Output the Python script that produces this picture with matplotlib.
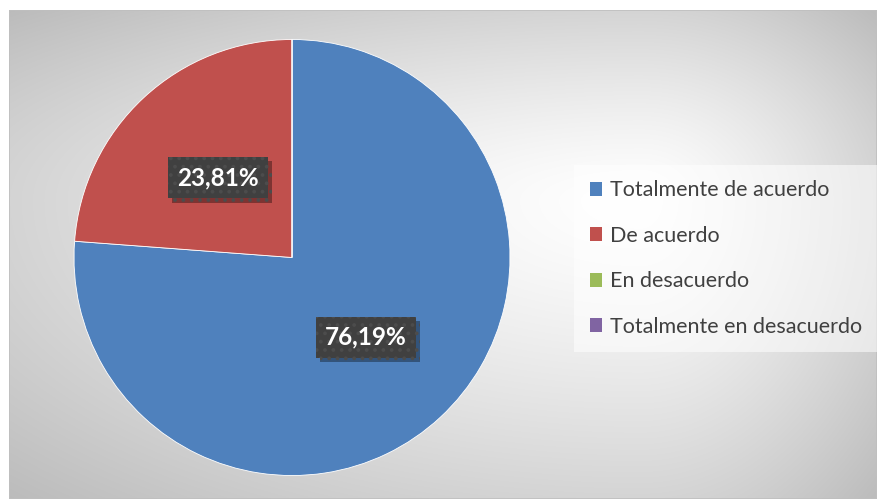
import numpy as np
import matplotlib.pyplot as plt
from matplotlib.patches import Patch, Rectangle
import matplotlib.patheffects as pe

categorias = ["Totalmente de acuerdo", "De acuerdo", "En desacuerdo",
              "Totalmente en desacuerdo"]
valores = [76.19, 23.81, 0, 0]
colores = ["#4F81BD", "#C0504D", "#9BBB59", "#8064A2"]

W, H = 877, 499
fig = plt.figure(figsize=(W / 100, H / 100), dpi=100)
fig.patch.set_facecolor("white")

# fondo con degradado radial (tipo Excel)
x0, y0 = 9, 10
bg = fig.add_axes([x0 / W, 0, 1 - x0 / W, (H - y0) / H])
bg.set_axis_off()
xs = np.arange(x0, W)
ys = np.arange(y0, H)
X, Y = np.meshgrid(xs, ys)
cx, cy = 640, 200
ax_ = np.where(X < cx, cx - x0, W - cx) * 1.05
ay_ = np.where(Y < cy, cy - y0, H - cy) * 1.05
d = np.sqrt(((X - cx) / ax_) ** 2 + ((Y - cy) / ay_) ** 2)
g = np.clip(1 - 0.18 * d ** 1.3, 0, 1)
img = np.dstack([g, g, g])
bg.imshow(img, extent=[0, 1, 0, 1], aspect="auto", interpolation="bilinear")
bg.add_patch(Rectangle((0, 0), 1, 1, transform=bg.transAxes, fill=False,
                       edgecolor="#bfbfbf", linewidth=1.2))

# gráfico circular
R = 218
pcx, pcy = 292, H - 257.5
ax = fig.add_axes([(pcx - R) / W, (pcy - R) / H, 2 * R / W, 2 * R / H])


def fmt(p):
    return "" if p < 0.01 else f"{p:.2f}%".replace(".", ",")


wedges, textos, autotextos = ax.pie(
    valores, colors=colores, startangle=90, counterclock=False,
    autopct=fmt, pctdistance=0.5,
    wedgeprops=dict(edgecolor="white", linewidth=0.6),
    textprops=dict(color="white", fontsize=17.5, fontweight="bold",
                   family=["Lato", "DejaVu Sans"]))
ax.set_xlim(-1, 1)
ax.set_ylim(-1, 1)

plt.rcParams["hatch.linewidth"] = 1.5
for t in autotextos:
    if t.get_text():
        t.set_bbox(dict(boxstyle="square,pad=0.38", facecolor="#404040",
                        edgecolor="#4c4c4c", linewidth=0, hatch=".."))
        t.get_bbox_patch().set_path_effects(
            [pe.withSimplePatchShadow(offset=(3, -3), shadow_rgbFace="black",
                                      alpha=0.35), pe.Normal()])

# leyenda
handles = [Patch(facecolor=c, edgecolor="none") for c in colores]
leg = fig.legend(handles, categorias, loc="upper left",
                 bbox_to_anchor=(574 / W, 1 - 165 / H),
                 frameon=True, fancybox=False, framealpha=0.55,
                 facecolor="white", edgecolor="none",
                 prop=dict(family=["Lato", "DejaVu Sans"], size=15.5),
                 labelcolor="#404040", handlelength=0.6, handleheight=0.6,
                 handletextpad=0.35, labelspacing=1.18, borderpad=0.72,
                 borderaxespad=0)

fig.savefig("out.png", dpi=100)
